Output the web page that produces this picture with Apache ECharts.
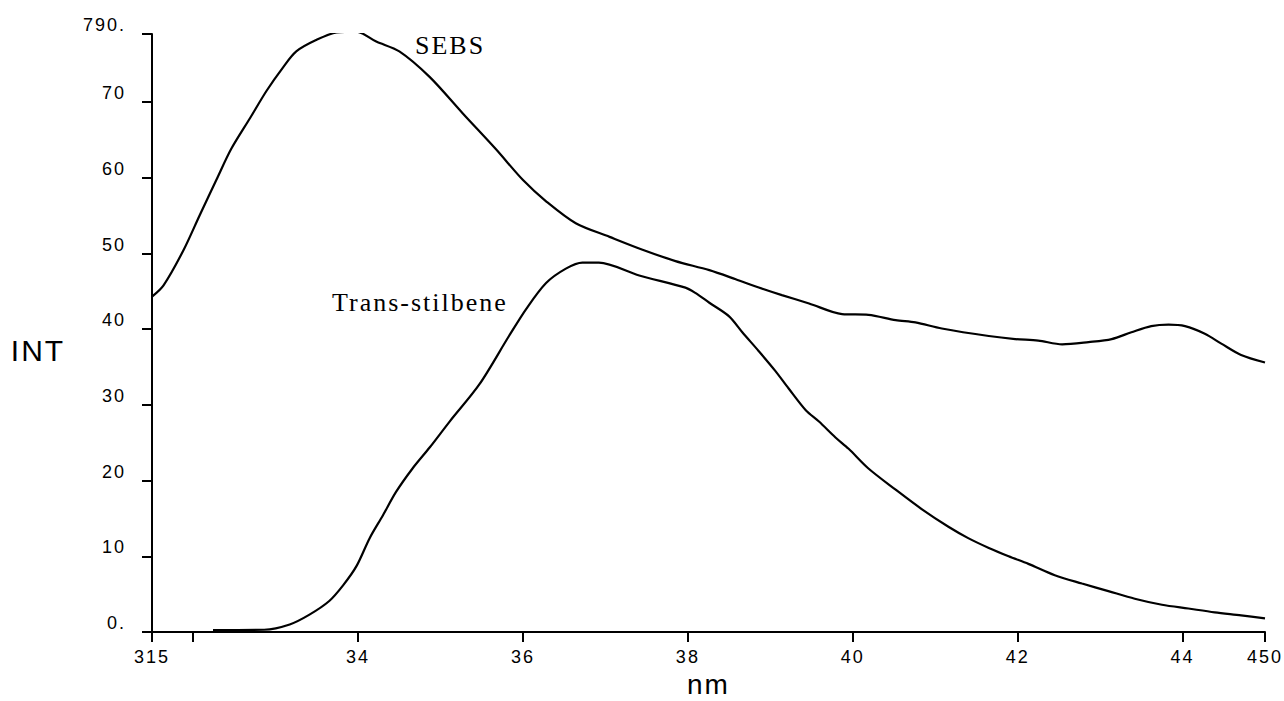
<!DOCTYPE html>
<html>
<head>
<meta charset="utf-8">
<title>SEBS / Trans-stilbene</title>
<script src="https://cdn.jsdelivr.net/npm/echarts@6.0.0/dist/echarts.min.js"></script>
<style>
  html, body { margin: 0; padding: 0; background: #fff; }
  #chart { width: 1284px; height: 701px; }
  /* the scanned figure has widely spaced lettering */
  #chart text { letter-spacing: 2px; }
</style>
</head>
<body>
<div id="chart"></div>
<script>
// wavelength (nm) and intensity
var sebsNm = [315, 316.4, 318.8, 320.8, 322.8, 324.6, 326.9, 328.9, 330.9, 332.5, 334.9, 337.4, 339.8, 342.2, 345.0, 348.7,
  352.7, 356.7, 360.0, 362.8, 366.4, 370.5, 374.5, 378.5, 382.6, 385.8, 388.6, 391.4, 394.7, 398.7, 401.9, 405.2,
  407.6, 410.8, 416.5, 419.7, 422.5, 425.4, 428.6, 431.4, 433.8, 436.2, 438.3, 440.3, 442.7, 444.7, 447.1, 450]
var sebsInt = [44.3, 45.8, 50.4, 55.1, 59.7, 63.8, 67.9, 71.5, 74.6, 76.7, 78.2, 79.2, 79.3, 78.0, 76.7, 73.3,
  68.5, 63.8, 59.7, 56.9, 54.0, 52.2, 50.5, 49.0, 47.8, 46.6, 45.5, 44.5, 43.4, 42.0, 41.9, 41.2,
  40.9, 40.1, 39.1, 38.7, 38.5, 38.0, 38.3, 38.7, 39.6, 40.4, 40.6, 40.4, 39.4, 38.1, 36.6, 35.6]

var stilbeneNm = [322.4, 328.6, 331.7, 334.1, 336.5, 338.2, 339.8, 341.4, 343.0, 344.6, 346.6, 348.7, 351.1, 354.7, 358.3, 360.4,
  362.8, 365.2, 367.2, 369.2, 374.1, 379.7, 380.9, 382.6, 385.0, 386.6, 388.6, 390.6, 392.2, 394.3, 395.9, 397.9,
  399.5, 401.9, 405.2, 408.4, 411.6, 414.0, 416.5, 418.9, 421.3, 424.5, 427.8, 431.0, 434.2, 437.5, 440.7, 443.9, 447.1, 450]
var stilbeneInt = [0.25, 0.3, 1.0, 2.3, 4.1, 6.2, 8.7, 12.4, 15.4, 18.5, 21.6, 24.4, 27.8, 32.7, 39.1, 42.7,
  46.1, 48.0, 48.8, 48.8, 47.1, 45.5, 44.8, 43.5, 41.7, 39.6, 37.1, 34.5, 32.2, 29.3, 27.8, 25.7,
  24.2, 21.6, 18.8, 16.2, 13.9, 12.4, 11.1, 10.0, 9.0, 7.5, 6.4, 5.4, 4.4, 3.6, 3.1, 2.6, 2.2, 1.8]

// axis ticks and the labels as printed on the original
var xTickValues = [315, 320, 340, 360, 380, 400, 420, 440, 450]
var xLabelValues = [315, 340, 360, 380, 400, 420, 440, 450]
var xLabelText = ['315', '34', '36', '38', '40', '42', '44', '450']
var yTickValues = [0, 10, 20, 30, 40, 50, 60, 70, 79]
var yLabelText = ['0.', '10', '20', '30', '40', '50', '60', '70', '790.']

function pairs (xs, ys) {
  return xs.map(function (x, i) { return [x, ys[i]] })
}
function lookup (values, texts) {
  return function (v) {
    for (var i = 0; i < values.length; i++) {
      if (Math.abs(values[i] - v) < 1e-6) return texts[i]
    }
    return ''
  }
}

var sans = '"Liberation Sans", Arial, sans-serif'
var serif = '"Liberation Serif", "Times New Roman", serif'

var chart = echarts.init(document.getElementById('chart'), null, { renderer: 'svg' })
chart.setOption({
  animation: false,
  backgroundColor: '#fff',
  grid: { left: 152, right: 19, top: 34, bottom: 69, outerBoundsMode: 'none' },
  xAxis: {
    type: 'value',
    min: 315,
    max: 450,
    name: 'nm',
    nameLocation: 'middle',
    nameGap: 28,
    nameTextStyle: { fontSize: 28, color: '#000', fontFamily: sans },
    axisLine: { show: true, onZero: false, lineStyle: { color: '#000', width: 2 } },
    axisTick: { show: true, length: 10, customValues: xTickValues, lineStyle: { color: '#000', width: 2 } },
    axisLabel: {
      customValues: xLabelValues,
      formatter: lookup(xLabelValues, xLabelText),
      fontSize: 18,
      color: '#000',
      fontFamily: sans,
      margin: 16
    },
    splitLine: { show: false }
  },
  yAxis: {
    type: 'value',
    min: 0,
    max: 79,
    name: 'INT',
    nameLocation: 'middle',
    nameRotate: 0,
    nameGap: 114,
    // top-aligned with a tall line box so the name sits a bit below the axis middle
    nameTextStyle: { fontSize: 30, color: '#000', fontFamily: sans, align: 'center', verticalAlign: 'top', lineHeight: 34 },
    axisLine: { show: true, lineStyle: { color: '#000', width: 2 } },
    axisTick: { show: true, length: 10, customValues: yTickValues, lineStyle: { color: '#000', width: 2 } },
    axisLabel: {
      customValues: yTickValues,
      formatter: lookup(yTickValues, yLabelText),
      fontSize: 18,
      color: '#000',
      fontFamily: sans,
      margin: 26,
      verticalAlign: 'bottom'
    },
    splitLine: { show: false }
  },
  graphic: [
    { type: 'text', x: 415, y: 45, style: { text: 'SEBS', font: '26px ' + serif, fill: '#000', verticalAlign: 'middle' } },
    { type: 'text', x: 332, y: 302, style: { text: 'Trans-stilbene', font: '26px ' + serif, fill: '#000', verticalAlign: 'middle' } }
  ],
  series: [
    {
      name: 'SEBS',
      type: 'line',
      data: pairs(sebsNm, sebsInt),
      showSymbol: false,
      smooth: 0.3,
      lineStyle: { color: '#000', width: 2.2 }
    },
    {
      name: 'Trans-stilbene',
      type: 'line',
      data: pairs(stilbeneNm, stilbeneInt),
      showSymbol: false,
      smooth: 0.3,
      lineStyle: { color: '#000', width: 2.2 }
    }
  ]
})
</script>
</body>
</html>
